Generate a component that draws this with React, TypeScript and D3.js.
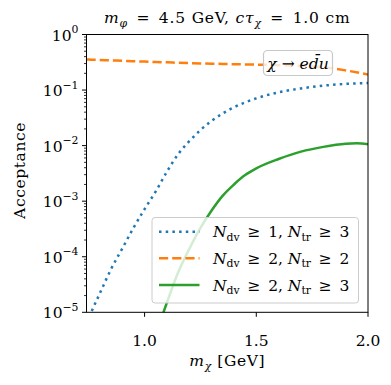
// Acceptance vs. m_chi for three displaced-vertex selections (log y)
import * as d3 from "d3";

// chi mass grid [GeV]
const massGrid = [0.74, 0.76, 0.8, 0.85, 0.9, 0.95, 1.0, 1.05, 1.1, 1.15, 1.2, 1.25, 1.3, 1.35, 1.4, 1.45, 1.5, 1.6, 1.7, 1.8, 1.9, 2.0];

// N_dv >= 1, N_tr >= 3
const accDv1Tr3 = [6.3e-6, 9.8e-6, 2.2e-5, 6.0e-5, 1.4e-4, 3.3e-4, 7.2e-4, 1.5e-3, 3.4e-3, 7.0e-3, 1.2e-2, 1.9e-2, 2.8e-2, 3.8e-2, 4.9e-2, 6.0e-2, 7.1e-2, 9.1e-2, 0.107, 0.12, 0.129, 0.134];

// N_dv >= 2, N_tr >= 2
const accDv2Tr2 = [0.355, 0.353, 0.348, 0.342, 0.336, 0.33, 0.325, 0.32, 0.315, 0.31, 0.305, 0.301, 0.298, 0.295, 0.292, 0.289, 0.287, 0.281, 0.272, 0.258, 0.226, 0.19];

// N_dv >= 2, N_tr >= 3 (only above ~1.07 GeV)
const greenMass = [1.07, 1.1, 1.15, 1.2, 1.25, 1.3, 1.35, 1.4, 1.45, 1.5, 1.6, 1.7, 1.8, 1.9, 1.95, 2.0];
const accDv2Tr3 = [6.8e-6, 1.5e-5, 5.2e-5, 1.38e-4, 3.3e-4, 6.8e-4, 1.26e-3, 2.0e-3, 2.95e-3, 3.9e-3, 5.75e-3, 7.8e-3, 9.5e-3, 1.08e-2, 1.1e-2, 1.06e-2];

const xTicks = [1.0, 1.5, 2.0];
const yExponents = [0, -1, -2, -3, -4, -5];
const legendCuts = [["1", "3"], ["2", "2"], ["2", "3"]];

const W = 391;
const H = 385;
const FS = 15.5;
const font = { fontFamily: "'DejaVu Serif'" };
const SP = "\u2002"; // wider space around relations, like TeX math

// text made of segments (italic / sub / sup)
function Rich({ x, y, anchor = "start", parts, size = FS, spacing = 0 }) {
  let shift = 0;
  return (
    <text x={x} y={y} textAnchor={anchor} style={{ ...font, fontSize: `${size}px`, letterSpacing: `${spacing}px` }}>
      {parts.map((p, i) => {
        const target = p.sub ? 3.5 : p.sup ? -7.5 : 0;
        const dy = target - shift;
        shift = target;
        return (
          <tspan
            key={i}
            dy={dy}
            style={{
              ...font,
              fontSize: `${p.sub || p.sup ? size * 0.7 : size}px`,
              fontStyle: p.it ? "italic" : "normal",
            }}
          >
            {p.t}
          </tspan>
        );
      })}
    </text>
  );
}

export default function App() {
  const left = 86.5, right = 368, top = 34.5, bottom = 312.3;

  const x = d3.scaleLinear().domain([0.74, 2.0]).range([left, right]);
  const y = d3.scaleLog().domain([1e-5, 1]).range([bottom, top]);

  const line = d3.line()
    .x((d) => x(d[0]))
    .y((d) => y(d[1]))
    .curve(d3.curveMonotoneX);

  const series = [
    { xs: massGrid, ys: accDv1Tr3, color: "#1f77b4", dash: "2.5 4.2" },
    { xs: massGrid, ys: accDv2Tr2, color: "#ff7f0e", dash: "9.2 4" },
    { xs: greenMass, ys: accDv2Tr3, color: "#2ca02c", dash: undefined },
  ];

  const rows = [231.7, 258.3, 285];

  return (
    <svg width={W} height={H} style={{ position: "absolute", left: 0, top: 0 }}>
      <rect width={W} height={H} fill="white" />
      <defs>
        <clipPath id="plotclip">
          <rect x={left} y={top} width={right - left} height={bottom - top} />
        </clipPath>
      </defs>

      <g clipPath="url(#plotclip)">
        {series.map((s, i) => (
          <path
            key={i}
            d={line(s.xs.map((m, j) => [m, s.ys[j]]))}
            fill="none"
            stroke={s.color}
            strokeWidth={2.5}
            strokeDasharray={s.dash}
          />
        ))}
      </g>

      <rect x={left} y={top} width={right - left} height={bottom - top} fill="none" stroke="black" strokeWidth={1} />

      {/* y ticks, major + minor */}
      {yExponents.map((e) => {
        const yy = y(Math.pow(10, e));
        return (
          <g key={e}>
            <line x1={left - 4.5} x2={left} y1={yy} y2={yy} stroke="black" strokeWidth={1} />
            {e > -5 &&
              d3.range(2, 10).map((k) => {
                const ym = y(k * Math.pow(10, e - 1));
                return <line key={k} x1={left - 2.5} x2={left} y1={ym} y2={ym} stroke="black" strokeWidth={0.8} />;
              })}
            <Rich
              x={78.5}
              y={yy + 6}
              anchor="end"
              parts={[{ t: "10" }, { t: e < 0 ? `\u2212${-e}` : `${e}`, sup: true }]}
            />
          </g>
        );
      })}

      {/* x ticks */}
      {xTicks.map((v) => (
        <g key={v}>
          <line x1={x(v)} x2={x(v)} y1={bottom} y2={bottom + 4.5} stroke="black" strokeWidth={1} />
          <text x={x(v)} y={345.5} textAnchor="middle" style={{ ...font, fontSize: `${FS}px` }}>
            {d3.format(".1f")(v)}
          </text>
        </g>
      ))}

      <Rich
        x={(left + right) / 2}
        y={366}
        anchor="middle"
        spacing={0.6}
        parts={[{ t: "m", it: true }, { t: "\u03c7", it: true, sub: true }, { t: " [GeV]" }]}
      />
      <text
        transform={`translate(25,${(top + bottom) / 2 - 3}) rotate(-90)`}
        textAnchor="middle"
        style={{ ...font, fontSize: `${FS}px`, letterSpacing: "0.6px" }}
      >
        Acceptance
      </text>
      <Rich
        x={(left + right) / 2}
        y={23}
        anchor="middle"
        spacing={0.8}
        parts={[
          { t: "m", it: true }, { t: "\u03c6", it: true, sub: true },
          { t: `${SP}=${SP}4.5 GeV, ` }, { t: "c\u03c4", it: true }, { t: "\u03c7", it: true, sub: true },
          { t: `${SP}=${SP}1.0 cm` },
        ]}
      />

      {/* decay channel box */}
      <rect x={263.5} y={50.5} width={69} height={25} rx={4} fill="white" fillOpacity={0.8} stroke="#c8c8c8" strokeWidth={1.2} />
      <Rich
        x={298}
        y={68.5}
        anchor="middle"
        parts={[{ t: "\u03c7", it: true }, { t: " \u2192 " }, { t: "ed\u0304u", it: true }]}
      />

      {/* legend */}
      <rect x={152} y={217.5} width={206.5} height={85.5} rx={3} fill="white" fillOpacity={0.8} stroke="#cccccc" strokeWidth={1} />
      {series.map((s, i) => (
        <g key={i}>
          <line x1={159} x2={199.5} y1={rows[i]} y2={rows[i]} stroke={s.color} strokeWidth={2.5} strokeDasharray={s.dash} />
          <Rich
            x={213}
            y={rows[i] + 5.5}
            parts={[
              { t: "N", it: true }, { t: "dv", sub: true }, { t: `${SP}\u2265${SP}${legendCuts[i][0]}, ` },
              { t: "N", it: true }, { t: "tr", sub: true }, { t: `${SP}\u2265${SP}${legendCuts[i][1]}` },
            ]}
          />
        </g>
      ))}
    </svg>
  );
}
